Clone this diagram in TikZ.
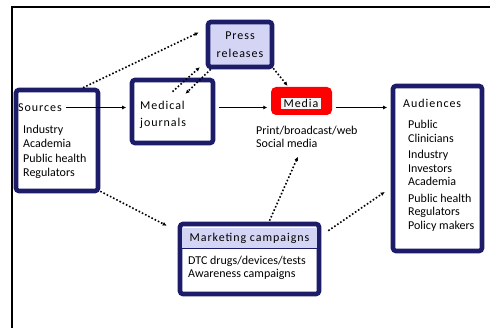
\documentclass[tikz,border=0pt]{standalone}
\usepackage{fontspec}
\setmainfont{Carlito}
\newfontfamily\spaced[LetterSpace=8]{Carlito}
\definecolor{boxnavy}{RGB}{28,28,105}
\definecolor{lavender}{RGB}{212,212,245}
\definecolor{mediared}{RGB}{255,0,0}
\usetikzlibrary{
  arrows.meta,
  calc,
  positioning,
}
\tikzset{
  >={Latex[length=4pt,width=4pt]},
}

\begin{document}
\begin{tikzpicture}[x=1pt, y=-1pt,
    box/.style={draw=boxnavy, line width=4.6pt, rounded corners=3pt, fill=white,
                inner sep=0pt},
    head/.style={font=\fontsize{12}{14}\spaced, inner sep=0pt},
    list/.style={font=\fontsize{12}{13.5}\selectfont, align=left,
                 anchor=north west, inner sep=0pt},
    flow/.style={->, line width=1.6pt, shorten >=3.5pt, shorten <=3.5pt},
    dots/.style={->, line width=1.6pt, dotted}]
      \useasboundingbox (0,0) rectangle (490,328);
      \draw [line width=2pt] (12,330) -- (12,7) -- (492,7);
      \node [box, minimum width=82, minimum height=101] (src) at (57,140.5) {};
      \node [head, anchor=west] (srcT) at (18,107.5) {Sources};
      \node [list] (srcL) at (23,125) {Industry\\Academia\\[2pt]Public health\\Regulators};
      \node [box, minimum width=81, minimum height=63] (mj) at (172.5,111.5) {};
      \node [head, align=left, anchor=north west] (mjT) at (140,101)
            {Medical\\[3pt]journals};
      \node [box, fill=lavender, minimum width=64, minimum height=45,
             head, align=center] (pr) at (240,44.5) {Press\\[4pt]releases};
      \node [fill=mediared, rounded corners=5pt, minimum width=61,
             minimum height=28] (media) at (301.5,101) {};
      \node [head, fill=gray!7, inner sep=1.5pt, minimum width=40] (mediaT)
            at (301,103.5) {Media};
      \node [list] (mediaL) at (256,125.5) {Print/broadcast/web\\Social media};
      \node [box, minimum width=89, minimum height=165] (aud) at (437.5,168.5) {};
      \node [head, anchor=west] (audT) at (403,103) {Audiences};
      \node [list] (audL) at (408,120) {Public\\Clinicians\\[3pt]Industry\\Investors\\
            Academia\\[3pt]Public health\\Regulators\\Policy makers};
      \node [box, minimum width=139, minimum height=70] (mkt) at (249.5,259) {};
      \node [head, fill=lavender, minimum width=134.5, minimum height=20]
            (mktT) at (249.5,238) {Marketing campaigns};
      \draw [boxnavy, line width=0.6pt] (mktT.south west) -- (mktT.south east);
      \node [list] (mktL) at (188,255.5) {DTC drugs/devices/tests\\Awareness campaigns};
      \draw [flow] (srcT.east) -- (mj.west |- srcT.east);
      \draw [flow] (mj.east |- srcT.east) -- (media.west |- srcT.east);
      \draw [flow] (media.east |- srcT.east) -- (aud.west |- srcT.east);
      \draw [dots] ($(src.north)!0.6!(src.north east)$) -- ($(pr.west)+(-7,-12)$);
      \draw [dots] ($(mj.north)+(0,14)$) -- ($(pr.south west)+(-6,-2)$);
      \draw [dots] ($(pr.south west)+(5,0)$) -- ($(mj.north)+(13,16)$);
      \draw [dots] ($(pr.south east)+(-1,-1)$) -- ($(media.north)+(-14,-1)$);
      \draw [dots] ($(src.south east)+(0,-2)$) -- ($(mkt.north west)+(-11,4)$);
      \draw [dots] ($(mkt.north)+(20,-1)$) -- ($(mediaL.south)+(-9,9)$);
      \draw [dots] ($(mkt.north east)+(7,9)$) -- ($(aud.west)+(-6,23.5)$);
    \end{tikzpicture}
\end{document}
